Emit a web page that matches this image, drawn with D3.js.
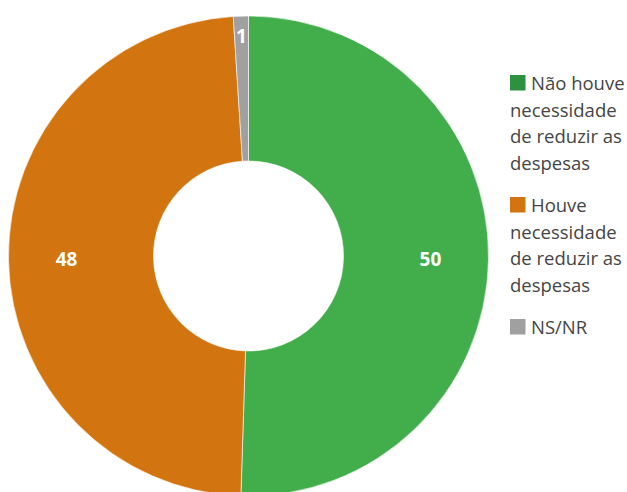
<!DOCTYPE html>
<html>
<head>
<meta charset="utf-8">
<script src="https://cdn.jsdelivr.net/npm/d3@7"></script>
<style>
  html, body { margin: 0; padding: 0; background: #fff; }
  svg { display: block; }
  .legend text { font-family: "Open Sans", "Noto Sans", sans-serif; font-size: 18.5px; fill: #454545; }
  .slice-label { font-family: "Open Sans", "Noto Sans", sans-serif; font-size: 19px; font-weight: 700; fill: #fff; }
</style>
</head>
<body>
<svg id="chart" width="627" height="492"></svg>
<script>
// Survey answers and their shares (%)
const categories = [
  "Não houve necessidade de reduzir as despesas",
  "Houve necessidade de reduzir as despesas",
  "NS/NR"
];
const values = [50, 48, 1];
const sliceColors = ["#41ae4b", "#d2740f", "#a0a0a0"];
const legendColors = ["#2e9140", "#d2740f", "#a0a0a0"];

const data = categories.map((c, i) => ({ category: c, value: values[i] }));

const svg = d3.select("#chart");
const cx = 248.5, cy = 256;
const outerR = 240, innerR = 95;

const color = d3.scaleOrdinal().domain(categories).range(sliceColors);
const legendColor = d3.scaleOrdinal().domain(categories).range(legendColors);

const pie = d3.pie().value(d => d.value).sort(null);
const arcs = pie(data);
const arc = d3.arc().innerRadius(innerR).outerRadius(outerR);

const g = svg.append("g").attr("transform", `translate(${cx},${cy})`);

g.selectAll("path.slice")
  .data(arcs)
  .join("path")
  .attr("class", "slice")
  .attr("d", arc)
  .attr("fill", d => color(d.data.category))
  .attr("stroke", "#fff")
  .attr("stroke-width", 0.6);

// Value labels: the tiny slice gets its label pushed toward the rim
const labelArc = d => {
  const r = d.data.value < 5 ? 220 : 182;
  return d3.arc().innerRadius(r).outerRadius(r).centroid(d);
};
g.selectAll("text.slice-label")
  .data(arcs)
  .join("text")
  .attr("class", "slice-label")
  .attr("text-anchor", "middle")
  .attr("dominant-baseline", "central")
  .attr("x", d => labelArc(d)[0])
  .attr("y", d => labelArc(d)[1])
  .text(d => d3.format("d")(d.data.value));

// Legend with wrapped labels
const legend = svg.append("g").attr("class", "legend");
const lx = 510, sw = 15.5, textGap = 5.5, lineH = 26.5, itemGap = 16, maxW = 118;
let baseline = 90;

categories.forEach((cat, i) => {
  const item = legend.append("g");
  item.append("rect")
    .attr("x", lx).attr("y", baseline - 15)
    .attr("width", sw).attr("height", sw)
    .attr("fill", legendColor(cat));

  const words = cat.split(" ");
  const lines = [];
  let current = [];
  const probe = item.append("text");
  const widthOf = s => { probe.text(s); return probe.node().getComputedTextLength(); };
  words.forEach(w => {
    const trial = current.concat(w).join(" ");
    const avail = lines.length === 0 ? maxW - sw - textGap : maxW;
    if (current.length && widthOf(trial) > avail) {
      lines.push(current.join(" "));
      current = [w];
    } else {
      current.push(w);
    }
  });
  if (current.length) lines.push(current.join(" "));
  probe.remove();

  lines.forEach((ln, j) => {
    item.append("text")
      .attr("x", j === 0 ? lx + sw + textGap : lx)
      .attr("y", baseline + j * lineH)
      .text(ln);
  });
  baseline += lines.length * lineH + itemGap;
});
</script>
</body>
</html>
